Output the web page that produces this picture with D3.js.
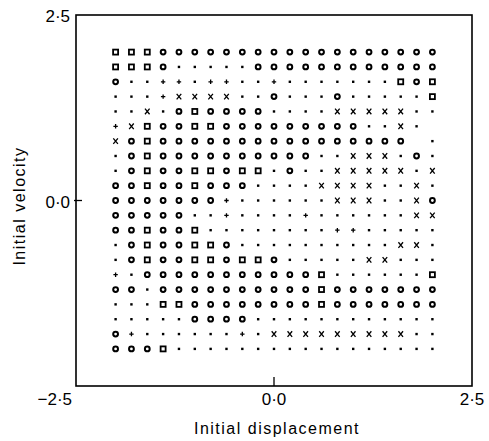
<!DOCTYPE html>
<html>
<head>
<meta charset="utf-8">
<script src="https://cdn.jsdelivr.net/npm/d3@7"></script>
<style>
  html, body { margin: 0; padding: 0; background: #fff; }
  svg { display: block; }
  text { font-family: "Liberation Sans", Arial, sans-serif; fill: #000; }
</style>
</head>
<body>
<svg id="chart" width="489" height="441"></svg>
<script>
// Initial conditions sampled on a 21 x 21 grid
const displacements = d3.range(21).map(i => +(-2 + i * 0.2).toFixed(1));
const velocities = d3.range(21).map(i => +(2 - i * 0.2).toFixed(1));

// Attractor reached from each start, one string per velocity row (top to bottom).
// o = circle, s = square, . = dot, + = plus, x = cross, _ = none
const row01 = "sssooooooo" + "ooooooooooo";
const row02 = "ssso.....o" + "ooooooooooo";
const row03 = "o..++.++.." + "+.......sos";
const row04 = "...+xxxx.." + "o...o.....s";
const row05 = "..x.osoooo" + "....xxxxx..";
const row06 = "+xsoossooo" + "oooooo..x._";
const row07 = "xosooooooo" + "ooooooooo_.";
const row08 = ".osooooooo" + "ooo..xxx.o.";
const row09 = ".osoossoss" + ".o..xxxxx.x";
const row10 = "oosoosooo." + "...xxxx..x.";
const row11 = "ooooooo+.." + "....xxx..xo";
const row12 = "ooooo..+.." + "..+......xx";
const row13 = "oosoos...." + "....++.....";
const row14 = ".osoosso.." + "........xx.";
const row15 = ".osoossoss" + "o.....xx...";
const row16 = "+.oooooooo" + "ooos......s";
const row17 = "oo.ooooooo" + "ooosooooooo";
const row18 = "...ssooooo" + "ooosooooooo";
const row19 = ".....oooo." + "...........";
const row20 = "o+......+." + "xxxxxxxxx..";
const row21 = "ooos......" + "...........";
const outcomeRows = [row01, row02, row03, row04, row05, row06, row07, row08, row09, row10,
                     row11, row12, row13, row14, row15, row16, row17, row18, row19, row20, row21];

const xTicks = [-2.5, 0, 2.5];
const xTickLabels = ["\u22122\u00b75", "0\u00b70", "2\u00b75"];
const yTicks = [2.5, 0];
const yTickLabels = ["2\u00b75", "0\u00b70"];

const svg = d3.select("#chart");
const x = d3.scaleLinear().domain([-2.5, 2.5]).range([76, 472]);
const y = d3.scaleLinear().domain([-2.5, 2.5]).range([386, 15]);

// grid points
const points = [];
outcomeRows.forEach((row, r) => {
  row.split("").forEach((c, k) => {
    if (c !== "_") points.push({ x: displacements[k], v: velocities[r], c });
  });
});

const g = svg.append("g");
g.selectAll("g.pt").data(points).join("g")
  .attr("class", "pt")
  .attr("transform", d => `translate(${x(d.x)},${y(d.v)})`)
  .each(function(d) {
    const s = d3.select(this);
    if (d.c === "o") {
      s.append("circle").attr("r", 2.4).attr("fill", "#fff").attr("stroke", "#000").attr("stroke-width", 2);
    } else if (d.c === "s") {
      s.append("rect").attr("x", -2.5).attr("y", -2.5).attr("width", 5).attr("height", 5)
        .attr("fill", "#fff").attr("stroke", "#000").attr("stroke-width", 1.8);
    } else if (d.c === ".") {
      s.append("rect").attr("x", -1.2).attr("y", -1.2).attr("width", 2.4).attr("height", 2.4).attr("fill", "#000");
    } else if (d.c === "+") {
      s.append("path").attr("d", "M-2.2,0H2.2M0,-2.2V2.2").attr("stroke", "#000").attr("stroke-width", 1.3);
    } else if (d.c === "x") {
      s.append("path").attr("d", "M-2.3,-2.8L2.3,2.8M2.3,-2.8L-2.3,2.8").attr("stroke", "#000").attr("stroke-width", 1.3);
    }
  });

// frame
svg.append("rect")
  .attr("x", x(-2.5)).attr("y", y(2.5))
  .attr("width", x(2.5) - x(-2.5)).attr("height", y(-2.5) - y(2.5))
  .attr("fill", "none").attr("stroke", "#000").attr("stroke-width", 1.6);

// inward ticks at zero
svg.append("line").attr("x1", x(0)).attr("x2", x(0)).attr("y1", y(-2.5)).attr("y2", y(-2.5) - 9)
  .attr("stroke", "#000").attr("stroke-width", 1.3);
svg.append("line").attr("x1", x(-2.5) - 2).attr("x2", x(-2.5) + 6).attr("y1", y(0)).attr("y2", y(0))
  .attr("stroke", "#000").attr("stroke-width", 1.3);

// tick labels
svg.selectAll("text.xt").data(xTicks).join("text")
  .attr("class", "xt")
  .attr("x", (d, i) => i === 0 ? x(d) - 4 : x(d))
  .attr("y", 405)
  .attr("text-anchor", (d, i) => i === 0 ? "end" : "middle")
  .attr("font-size", 17)
  .text((d, i) => xTickLabels[i]);

svg.selectAll("text.yt").data(yTicks).join("text")
  .attr("class", "yt")
  .attr("x", 70)
  .attr("y", d => y(d) + 7)
  .attr("text-anchor", "end")
  .attr("font-size", 17)
  .text((d, i) => yTickLabels[i]);

// axis titles
svg.append("text")
  .attr("x", 277).attr("y", 434)
  .attr("text-anchor", "middle")
  .attr("font-size", 16)
  .attr("letter-spacing", 1.5)
  .text("Initial displacement");

svg.append("text")
  .attr("transform", `translate(25,206) rotate(-90)`)
  .attr("text-anchor", "middle")
  .attr("font-size", 16)
  .attr("letter-spacing", 1.5)
  .text("Initial velocity");
</script>
</body>
</html>
